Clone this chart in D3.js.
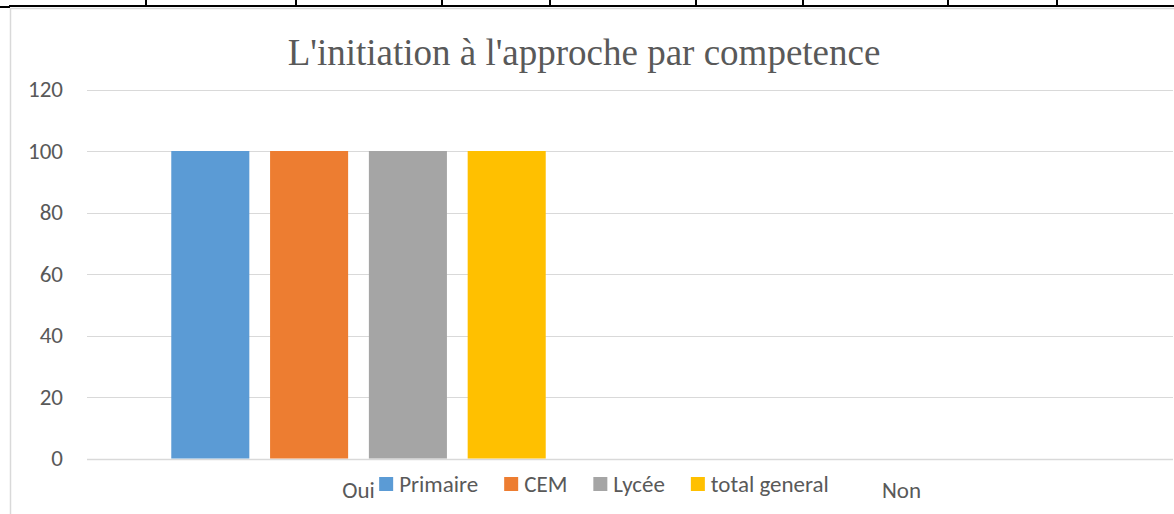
<!DOCTYPE html>
<html>
<head>
<meta charset="utf-8">
<script src="https://cdn.jsdelivr.net/npm/d3@7"></script>
<style>
  html, body { margin: 0; padding: 0; background: #fff; }
  svg { display: block; }
</style>
</head>
<body>
<div id="chart"></div>
<script>
// ---- Data ----
const title = "L'initiation à l'approche par competence";
const categories = ["Oui", "Non"];
const seriesNames = ["Primaire", "CEM", "Lycée", "total general"];
const seriesColors = ["#5B9BD5", "#ED7D31", "#A5A5A5", "#FFC000"];
const primaire = [100, 0];
const cem = [100, 0];
const lycee = [100, 0];
const totalGeneral = [100, 0];
const yTicks = [0, 20, 40, 60, 80, 100, 120];
// document table border separators seen above the chart (decoration)
const tableDividers = [146, 296, 442, 550, 696, 803, 948, 1057];

const seriesValues = [primaire, cem, lycee, totalGeneral];

const W = 1174, H = 514;
const svg = d3.select("#chart").append("svg")
  .attr("width", W).attr("height", H);

const font = "Carlito, 'Open Sans', sans-serif";
const fs = "23px";
const textColor = "#595959";

// ---- decoration: table lines at top ----
svg.append("line").attr("x1", 9).attr("x2", W).attr("y1", 6).attr("y2", 6)
  .attr("stroke", "#000").attr("stroke-width", 2);
svg.append("line").attr("x1", 0).attr("x2", 10).attr("y1", 7).attr("y2", 7)
  .attr("stroke", "#000").attr("stroke-width", 2);
svg.selectAll("line.div").data(tableDividers).enter().append("line")
  .attr("class", "div")
  .attr("x1", d => d).attr("x2", d => d).attr("y1", 0).attr("y2", 6)
  .attr("stroke", "#000").attr("stroke-width", 2);

// chart border
svg.append("path")
  .attr("d", `M10.5,${H} L10.5,8.5 L${W},8.5`)
  .attr("fill", "none").attr("stroke", "#d9d9d9").attr("stroke-width", 1.5);

// ---- scales ----
const plotLeft = 87, plotRight = 1173;
const y = d3.scaleLinear().domain([0, 120]).range([458.5, 89.5]);
const x0 = d3.scaleBand().domain(categories).range([plotLeft, plotRight]).padding(0);
const x1 = d3.scaleBand().domain(seriesNames).range([0, x0.bandwidth()])
  .paddingInner(0.21).paddingOuter(0.853);

// gridlines
svg.append("g").selectAll("line").data(yTicks).enter().append("line")
  .attr("x1", plotLeft).attr("x2", plotRight)
  .attr("y1", d => Math.round(y(d)) + 0.5).attr("y2", d => Math.round(y(d)) + 0.5)
  .attr("stroke", "#d9d9d9").attr("stroke-width", d => d === 0 ? 1.5 : 1);

// y axis labels
const yAxis = d3.axisLeft(y).tickValues(yTicks).tickSize(0).tickPadding(0);
const yg = svg.append("g").attr("transform", `translate(63,0)`).call(yAxis);
yg.select(".domain").remove();
yg.selectAll("text").attr("fill", textColor)
  .style("font-family", font).style("font-size", fs);

// bars
const groups = svg.append("g").selectAll("g").data(categories).enter().append("g")
  .attr("transform", c => `translate(${x0(c)},0)`);
groups.selectAll("rect")
  .data((c, ci) => seriesNames.map((s, si) => ({ s, si, v: seriesValues[si][ci] })))
  .enter().append("rect")
  .attr("x", d => x1(d.s))
  .attr("width", x1.bandwidth())
  .attr("y", d => y(d.v))
  .attr("height", d => y(0) - y(d.v))
  .attr("fill", d => seriesColors[d.si]);

// category labels
const xAxis = d3.axisBottom(x0).tickSize(0).tickPadding(0);
const xg = svg.append("g").attr("transform", `translate(0,482)`).call(xAxis);
xg.select(".domain").remove();
xg.selectAll("text").attr("fill", textColor)
  .style("font-family", font).style("font-size", fs);

// title
svg.append("text").text(title)
  .attr("x", 584).attr("y", 65).attr("text-anchor", "middle")
  .attr("fill", textColor)
  .style("font-family", "'Liberation Serif', 'Times New Roman', serif")
  .style("font-size", "37px");

// legend
const legend = svg.append("g");
const items = legend.selectAll("g").data(seriesNames).enter().append("g");
items.append("rect").attr("width", 14).attr("height", 14).attr("y", -7)
  .attr("fill", (d, i) => seriesColors[i]);
items.append("text").text(d => d).attr("x", 20).attr("y", 0).attr("dy", "0.35em")
  .attr("fill", textColor)
  .style("font-family", font).style("font-size", fs);
let cx = 0;
items.each(function () {
  const w = this.getBBox().width;
  d3.select(this).attr("transform", `translate(${cx},0)`);
  cx += w + 26;
});
const legendW = cx - 26;
legend.attr("transform", `translate(${604 - legendW / 2},484)`);
</script>
</body>
</html>
